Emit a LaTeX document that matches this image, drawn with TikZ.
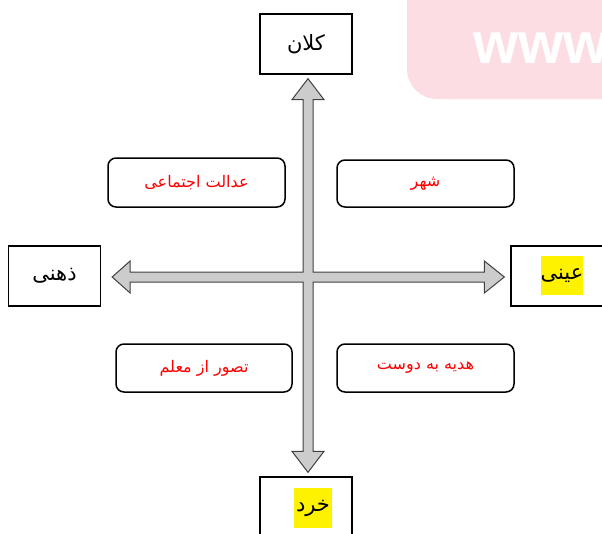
\documentclass[tikz,border=0pt]{standalone}
\usepackage{fontspec}
\setmainfont{Liberation Sans}
\newfontfamily\fa[Script=Arabic]{DejaVu Sans}
\TeXXeTstate=1
\usetikzlibrary{calc}
\definecolor{pinkbg}{RGB}{252,221,228}
\definecolor{arrowfill}{RGB}{204,204,204}
\definecolor{arrowline}{RGB}{64,64,64}
\tikzset{
  axisbox/.style={draw=black, line width=1.3pt, minimum width=92pt, minimum height=60pt, inner sep=0pt, font=\fa\fontsize{21}{24}\selectfont},
  itembox/.style={draw=black, line width=1.5pt, rounded corners=8pt, minimum width=177pt, minimum height=48pt, inner sep=0pt, text=red, font=\fa\fontsize{16}{19}\selectfont},
  hilite/.style={fill=yellow, inner sep=0pt, font=\fa\fontsize{21}{24}\selectfont},
  bigarrow/.style={fill=arrowfill, draw=arrowline, line width=1pt, line join=miter}
}
\begin{document}
\begin{tikzpicture}[x=1pt,y=-1pt]
\useasboundingbox (0,0) rectangle (602,533);
\clip (0,0) rectangle (602,533);
% watermark
\fill[pinkbg, rounded corners=30pt] (407,-40) rectangle (660,99);
\node[anchor=base west, text=white, inner sep=0pt, font=\bfseries\fontsize{58}{58}\selectfont] (www) at (473,63) {www};
% axis boxes
\node[axisbox] (top) at (306,44) {\beginR کلان\endR};
\node[axisbox] (left) at (54.5,276) {\beginR ذهنی\endR};
\node[axisbox] (right) at (557,276) {};
\node[hilite, minimum width=42pt, minimum height=39pt] (rightlbl) at (562,275.5) {\beginR عینی\endR};
\node[axisbox] (bottom) at (306,507) {};
\node[hilite, minimum width=38pt, minimum height=40pt] (bottomlbl) at (313,508) {\beginR خرد\endR};
% item boxes
\node[itembox, minimum height=49pt] (a) at (196.5,182.5) {\beginR عدالت اجتماعی\endR};
\node[itembox, minimum height=47pt] (b) at (425.5,183.5) {\beginR شهر\endR};
\node[itembox, minimum width=176pt] (c) at (204,368) {\beginR تصور از معلم\endR};
\node[itembox] (d) at (425.5,368) {\beginR هدیه به دوست\endR};
% arrow tips
\coordinate (tT) at ($(top.south)+(2,4)$);
\coordinate (tB) at ($(bottom.north)+(2,-4)$);
\coordinate (tL) at ($(left.east)+(11,1)$);
\coordinate (tR) at ($(right.west)+(-6,1)$);
% cross-shaped double arrow
\draw[bigarrow]
  (tT) -- ++(16,21) -- ++(-11,0) |- ($(tR)+(-20,-5)$) -- ++(0,-11) -- (tR)
  -- ++(-20,16) -- ++(0,-11) -| ($(tB)+(5,-21)$) -- ++(11,0) -- (tB)
  -- ++(-16,-21) -- ++(11,0) |- ($(tL)+(18,5)$) -- ++(0,11) -- (tL)
  -- ++(18,-16) -- ++(0,11) -| ($(tT)+(-5,21)$) -- ++(-11,0) -- cycle;
\end{tikzpicture}
\end{document}
